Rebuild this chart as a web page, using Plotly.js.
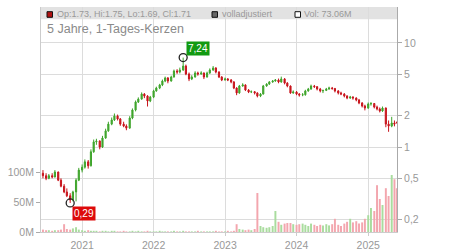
<!DOCTYPE html>
<html>
<head>
<meta charset="utf-8">
<script src="https://cdn.plot.ly/plotly-3.0.1.min.js"></script>
<style>html,body{margin:0;padding:0;background:#fff;}#chart{width:450px;height:250px;}</style>
</head>
<body>
<div id="chart"></div>
<script>
const dates = [
 '2020-06-15','2020-07-01','2020-07-15','2020-08-01','2020-08-15','2020-09-01','2020-09-15','2020-10-01','2020-10-15','2020-11-01','2020-11-15','2020-12-01','2020-12-15',
 '2021-01-01','2021-01-15','2021-02-01','2021-02-15','2021-03-01','2021-03-15','2021-04-01','2021-04-15','2021-05-01','2021-05-15','2021-06-01','2021-06-15',
 '2021-07-01','2021-07-15','2021-08-01','2021-08-15','2021-09-01','2021-09-15','2021-10-01','2021-10-15','2021-11-01','2021-11-15','2021-12-01','2021-12-15',
 '2022-01-01','2022-01-15','2022-02-01','2022-02-15','2022-03-01','2022-03-15','2022-04-01','2022-04-15','2022-05-01','2022-05-15','2022-06-01','2022-06-15',
 '2022-07-01','2022-07-15','2022-08-01','2022-08-15','2022-09-01','2022-09-15','2022-10-01','2022-10-15','2022-11-01','2022-11-15','2022-12-01','2022-12-15',
 '2023-01-01','2023-01-15','2023-02-01','2023-02-15','2023-03-01','2023-03-15','2023-04-01','2023-04-15','2023-05-01','2023-05-15','2023-06-01','2023-06-15',
 '2023-07-01','2023-07-15','2023-08-01','2023-08-15','2023-09-01','2023-09-15','2023-10-01','2023-10-15','2023-11-01','2023-11-15','2023-12-01','2023-12-15',
 '2024-01-01','2024-01-15','2024-02-01','2024-02-15','2024-03-01','2024-03-15','2024-04-01','2024-04-15','2024-05-01','2024-05-15','2024-06-01','2024-06-15',
 '2024-07-01','2024-07-15','2024-08-01','2024-08-15','2024-09-01','2024-09-15','2024-10-01','2024-10-15','2024-11-01','2024-11-15','2024-12-01','2024-12-15',
 '2025-01-01','2025-01-15','2025-02-01','2025-02-15','2025-03-01','2025-03-15','2025-04-01','2025-04-15','2025-05-01','2025-05-15','2025-05-27'
];
const open = [
 0.56,0.53,0.50,0.53,0.515,0.575,0.48,0.42,0.37,0.34,0.31,0.37,0.48,
 0.60,0.64,0.72,0.66,0.90,1.12,1.14,1.00,1.22,1.43,1.66,1.82,
 1.99,1.86,1.66,1.59,1.52,1.90,2.27,2.71,2.89,3.23,3.09,2.77,
 3.02,3.46,3.69,3.95,4.31,4.61,4.31,4.71,5.38,5.26,5.50,6.00,
 5.03,4.51,4.71,5.15,5.03,5.15,4.71,5.15,5.50,5.75,5.26,4.71,
 4.41,4.51,4.41,4.22,3.69,3.31,3.86,3.95,3.53,3.38,3.40,3.31,
 3.09,3.23,3.86,4.03,4.22,4.31,4.41,4.22,4.51,4.12,3.86,3.31,
 3.38,3.23,3.16,3.18,3.46,3.61,3.86,3.80,3.61,3.46,3.50,3.61,
 3.69,3.65,3.46,3.31,3.23,3.09,2.96,3.02,2.96,2.83,2.65,2.48,
 2.37,2.59,2.62,2.42,2.32,2.22,2.37,1.66,1.59,1.70,1.73
];
const high = [
 0.60,0.56,0.55,0.56,0.60,0.58,0.50,0.44,0.40,0.36,0.38,0.50,0.63,
 0.68,0.76,0.75,0.95,1.18,1.20,1.16,1.28,1.50,1.75,1.92,2.10,
 2.05,1.90,1.75,1.65,1.98,2.35,2.80,3.00,3.35,3.30,3.15,3.10,
 3.55,3.80,4.05,4.45,4.75,4.70,4.85,5.55,5.60,5.80,7.24,6.20,
 5.20,4.90,5.35,5.30,5.35,5.20,5.30,5.70,6.00,5.85,5.35,4.80,
 4.65,4.60,4.50,4.30,3.75,3.95,4.10,4.00,3.60,3.50,3.45,3.35,
 3.30,3.95,4.10,4.30,4.40,4.50,4.55,4.75,4.60,4.20,3.90,3.50,
 3.45,3.30,3.30,3.55,3.70,3.98,3.95,3.85,3.70,3.55,3.70,3.80,
 3.78,3.70,3.52,3.40,3.30,3.15,3.10,3.08,3.00,2.90,2.70,2.55,
 2.68,2.70,2.65,2.50,2.40,2.45,2.40,1.80,1.95,1.80,1.75
];
const low = [
 0.50,0.48,0.49,0.50,0.51,0.47,0.41,0.36,0.33,0.29,0.30,0.30,0.47,
 0.57,0.62,0.62,0.65,0.88,1.05,0.95,0.98,1.20,1.40,1.62,1.78,
 1.80,1.60,1.55,1.45,1.50,1.85,2.20,2.65,2.85,2.95,2.45,2.70,
 2.95,3.40,3.60,3.85,4.20,4.10,4.25,4.65,5.05,5.10,5.40,4.90,
 4.30,4.40,4.65,4.85,4.95,4.50,4.65,5.05,5.40,5.10,4.60,4.30,
 4.35,4.30,4.10,3.60,3.15,3.25,3.80,3.45,3.30,3.30,3.20,3.00,
 3.02,3.20,3.80,3.95,4.15,4.25,4.10,4.15,4.00,3.75,3.25,3.25,
 3.15,3.05,3.08,3.12,3.40,3.55,3.70,3.50,3.35,3.30,3.45,3.55,
 3.55,3.35,3.20,3.15,3.00,2.88,2.90,2.85,2.75,2.58,2.40,2.25,
 2.33,2.50,2.35,2.25,2.15,2.18,1.55,1.40,1.55,1.58,1.69
];
const close = [
 0.53,0.50,0.53,0.515,0.575,0.48,0.42,0.37,0.34,0.31,0.37,0.48,0.60,
 0.64,0.72,0.66,0.90,1.12,1.14,1.00,1.22,1.43,1.66,1.82,1.99,
 1.86,1.66,1.59,1.52,1.90,2.27,2.71,2.89,3.23,3.09,2.77,3.02,
 3.46,3.69,3.95,4.31,4.61,4.31,4.71,5.38,5.26,5.50,6.00,5.03,
 4.51,4.71,5.15,5.03,5.15,4.71,5.15,5.50,5.75,5.26,4.71,4.41,
 4.51,4.41,4.22,3.69,3.31,3.86,3.95,3.53,3.38,3.40,3.31,3.09,
 3.23,3.86,4.03,4.22,4.31,4.41,4.22,4.51,4.12,3.86,3.31,3.38,
 3.23,3.16,3.18,3.46,3.61,3.86,3.80,3.61,3.46,3.50,3.61,3.69,
 3.65,3.46,3.31,3.23,3.09,2.96,3.02,2.96,2.83,2.65,2.48,2.37,
 2.59,2.62,2.42,2.32,2.22,2.37,1.66,1.59,1.70,1.66,1.71
];
const volume = [
 4,3,3,2,3,3,4,13,5,4,6,8,4,
 3,2,3,2,2,2,1,2,2,1,2,2,1,1,2,1,1,2,1,2,1,1,2,1,
 1,1,2,1,1,1,1,2,1,1,2,1,1,1,1,2,1,1,1,1,1,2,1,1,
 1,2,1,2,13,5,4,3,4,3,5,65,10,8,7,8,10,35,17,12,14,15,15,13,
 12,13,14,12,10,14,12,10,12,11,13,11,13,22,12,10,14,17,22,16,18,14,16,22,
 28,40,35,78,55,45,73,60,95,88,73.06
];
const titleText = '5 Jahre, 1-Tages-Kerzen';
const yearTicks = ['2021-01-01','2022-01-01','2023-01-01','2024-01-01','2025-01-01'];
const priceTicks = [0.2,0.5,1,2,5,10];
const volTicks = [0,50,100];

const GREEN = '#3fa52c', RED = '#c8141c';
const volColors = close.map((c,i)=> c>=open[i] ? '#a9dc9e' : '#f3a6ae');

let hiIdx = 0, loIdx = 0;
high.forEach((v,i)=>{ if(v>high[hiIdx]) hiIdx=i; });
low.forEach((v,i)=>{ if(v<low[loIdx]) loIdx=i; });
const n = close.length-1;
const fmt = v => String(v).replace('.', ',');

const traces = [
 {type:'bar', x:dates, y:volume, yaxis:'y', marker:{color:volColors, line:{width:0}},
  width: 10*86400000, hoverinfo:'skip'},
 {type:'candlestick', x:dates, open:open, high:high, low:low, close:close, yaxis:'y2',
  increasing:{line:{color:GREEN,width:1}, fillcolor:GREEN},
  decreasing:{line:{color:RED,width:1}, fillcolor:RED},
  whiskerwidth:0, hoverinfo:'skip'},
 {type:'scatter', mode:'markers', x:[dates[hiIdx], dates[loIdx]], y:[high[hiIdx], low[loIdx]], yaxis:'y2',
  marker:{symbol:'circle-open', size:8, color:'#222', line:{width:1.3, color:'#222'}}, hoverinfo:'skip'}
];

const font = {family:'Liberation Sans, Arial, sans-serif', size:10, color:'#999'};
const layout = {
 width:450, height:250,
 margin:{l:41, r:53, t:7, b:18, pad:0},
 paper_bgcolor:'#fff', plot_bgcolor:'#fff',
 separators:',.',
 showlegend:false,
 font:font,
 title:{text:titleText, x:(47-0)/450, xanchor:'left', xref:'container', y:1-29/250, yanchor:'middle', yref:'container',
        font:{family:'Liberation Sans, Arial, sans-serif', size:12.5, color:'#8a8a8a'}},
 xaxis:{type:'date', range:['2020-06-05','2025-05-28'], rangeslider:{visible:false},
        tickvals:yearTicks, tickformat:'%Y', showgrid:true, gridcolor:'#dcdcdc', gridwidth:1,
        ticks:'outside', ticklen:3, tickcolor:'#ccc', showline:true, linecolor:'#ccc',
        tickfont:{size:10.5, color:'#999'}, fixedrange:true},
 yaxis:{range:[0,375], tickvals:volTicks, ticktext:volTicks.map(v=>v+'M'), showgrid:false, zeroline:false,
        ticks:'outside', ticklen:4, tickcolor:'#aaa', showline:true, linecolor:'#ccc',
        tickfont:{size:10.5, color:'#999'}, fixedrange:true},
 yaxis2:{overlaying:'y', side:'right', type:'log', range:[-0.817,1.346], tickvals:priceTicks,
        showgrid:true, gridcolor:'#dcdcdc', zeroline:false,
        ticks:'outside', ticklen:4, tickcolor:'#aaa', showline:true, linecolor:'#aaa',
        tickfont:{size:10.5, color:'#999'}, fixedrange:true},
 shapes:[
  {type:'rect', xref:'paper', yref:'paper', x0:0, x1:1, y0:(232-19.3)/225, y1:1, fillcolor:'#e2e2e2', line:{width:0}, layer:'below'},
  {type:'rect', xref:'paper', yref:'paper', x0:(47-41)/356, x1:(52.5-41)/356, y0:(232-17.3)/225, y1:(232-11.7)/225, fillcolor:'#b01010', line:{color:'#111',width:1}},
  {type:'rect', xref:'paper', yref:'paper', x0:(212-41)/356, x1:(217.5-41)/356, y0:(232-17.3)/225, y1:(232-11.7)/225, fillcolor:'#666', line:{color:'#111',width:1}},
  {type:'rect', xref:'paper', yref:'paper', x0:(295-41)/356, x1:(300.5-41)/356, y0:(232-17.3)/225, y1:(232-11.7)/225, fillcolor:'#fff', line:{color:'#111',width:1}}
 ],
 annotations:[
  {xref:'paper', yref:'paper', x:(55-41)/356, y:(232-14)/225, xanchor:'left', yanchor:'middle', showarrow:false,
   text:'Op:'+open[n]+', Hi:'+high[n]+', Lo:'+low[n]+', Cl:'+close[n], font:{size:9, color:'#999'}},
  {xref:'paper', yref:'paper', x:(219.5-41)/356, y:(232-14)/225, xanchor:'left', yanchor:'middle', showarrow:false,
   text:'volladjustiert', font:{size:9, color:'#999'}},
  {xref:'paper', yref:'paper', x:(301.5-41)/356, y:(232-14)/225, xanchor:'left', yanchor:'middle', showarrow:false,
   text:'Vol: '+volume[n].toFixed(2)+'M', font:{size:9, color:'#999'}},
  {xref:'x', yref:'y2', x:dates[hiIdx], y:Math.log10(high[hiIdx]), xanchor:'left', yanchor:'bottom', xshift:3, yshift:2,
   showarrow:false, text:fmt(high[hiIdx]), bgcolor:'#119a11', borderpad:1, font:{size:10, color:'#fff'}},
  {xref:'x', yref:'y2', x:dates[loIdx], y:Math.log10(low[loIdx]), xanchor:'left', yanchor:'top', xshift:2, yshift:-3,
   showarrow:false, text:fmt(low[loIdx]), bgcolor:'#dd0a0a', borderpad:1, font:{size:10, color:'#fff'}}
 ]
};
Plotly.newPlot('chart', traces, layout, {staticPlot:true, displayModeBar:false});
</script>
</body>
</html>
